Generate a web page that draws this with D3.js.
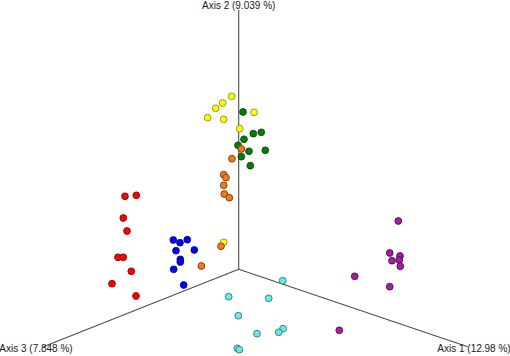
<!DOCTYPE html>
<html>
<head>
  <meta charset="UTF-8">
  <title>PCoA 3D</title>
  <script src="https://d3js.org/d3.v7.min.js"></script>
  <style>
    body { margin: 0; background: white; }
    text { font-family: "Liberation Sans", Arial, sans-serif; font-size: 10px; fill: #1a1a1a; }
  </style>
</head>
<body>
  <svg id="plot"></svg>
  <script>
    let width = 510;
    let height = 356;

    // axis labels
    let axisLabels = ["Axis 1 (12.98 %)", "Axis 2 (9.039 %)", "Axis 3 (7.848 %)"];

    // axis ends, projected (u right, v up) with origin at 0,0
    let axisEnds = [[2.29, -0.774], [0, 2.593], [-1.954, -0.774]];

    // projected sample coordinates, one array per group
    let groupNames = ["yellow", "green", "orange", "red", "blue", "cyan", "purple"];
    let groupColors = ["#ffff00", "#008000", "#f57a1c", "#ff0000", "#0000ff", "#6be8e8", "#a31fa3"];
    let groupStrokes = ["#8a8a2a", "#1f3a1f", "#7a3a10", "#7a1010", "#10107a", "#2a7a7a", "#4a104a"];

    let yellowU = [-0.07, -0.16, -0.23, -0.31, -0.15, 0.153, 0.01, -0.15];
    let yellowV = [1.73, 1.663, 1.61, 1.516, 1.50, 1.57, 1.406, 0.27];

    let greenU = [0.043, 0.146, 0.226, 0.053, -0.007, 0.103, 0.266, 0.026, 0.116];
    let greenV = [1.573, 1.356, 1.37, 1.30, 1.24, 1.18, 1.19, 1.126, 1.036];

    let orangeU = [0.026, -0.067, -0.15, -0.127, -0.15, -0.144, -0.094, -0.177, -0.374];
    let orangeV = [1.203, 1.106, 0.946, 0.916, 0.84, 0.753, 0.716, 0.23, 0.033];

    let redU = [-1.137, -1.024, -1.154, -1.117, -1.207, -1.154, -1.074, -1.267, -1.027];
    let redV = [0.73, 0.74, 0.513, 0.383, 0.12, 0.12, -0.02, -0.144, -0.267];

    let blueU = [-0.654, -0.587, -0.514, -0.627, -0.444, -0.584, -0.584, -0.65, -0.55];
    let blueV = [0.293, 0.266, 0.296, 0.186, 0.193, 0.10, 0.073, 0.0, -0.157];

    let cyanU = [0.44, -0.1, 0.3, -0.004, 0.183, 0.443, 0.4, -0.014, 0.006];
    let cyanV = [-0.114, -0.274, -0.29, -0.464, -0.644, -0.594, -0.63, -0.79, -0.804];

    let purpleU = [1.596, 1.51, 1.613, 1.533, 1.606, 1.616, 1.16, 1.51, 1.006];
    let purpleV = [0.483, 0.163, 0.133, 0.086, 0.093, 0.03, -0.07, -0.174, -0.61];

    let groupU = [yellowU, greenU, orangeU, redU, blueU, cyanU, purpleU];
    let groupV = [yellowV, greenV, orangeV, redV, blueV, cyanV, purpleV];

    let points = [];
    groupNames.forEach((g, i) => {
      groupU[i].forEach((u, j) => {
        points.push({ group: i, u: u, v: groupV[i][j] });
      });
    });

    let xScale = d3.scaleLinear().domain([0, 1]).range([238.7, 338.7]);
    let yScale = d3.scaleLinear().domain([0, 1]).range([269.3, 169.3]);

    let svg = d3.select("#plot")
                .attr("width", width)
                .attr("height", height);

    // axes from the origin
    svg.selectAll("line.axis").data(axisEnds)
       .join("line")
       .attr("class", "axis")
       .attr("x1", xScale(0))
       .attr("y1", yScale(0))
       .attr("x2", d => xScale(d[0]))
       .attr("y2", d => yScale(d[1]))
       .attr("stroke", "#4d4d4d")
       .attr("stroke-width", 1.1);

    // labels
    let labelPos = [
      { x: 474, y: 352, anchor: "middle" },
      { x: 238.7, y: 9, anchor: "middle" },
      { x: 36, y: 352, anchor: "middle" }
    ];
    svg.selectAll("text.lab").data(axisLabels)
       .join("text")
       .attr("class", "lab")
       .attr("x", (d, i) => labelPos[i].x)
       .attr("y", (d, i) => labelPos[i].y)
       .attr("text-anchor", (d, i) => labelPos[i].anchor)
       .text(d => d);

    svg.selectAll("circle").data(points)
       .join("circle")
       .attr("cx", d => xScale(d.u))
       .attr("cy", d => yScale(d.v))
       .attr("r", 3.4)
       .attr("fill", d => groupColors[d.group])
       .attr("stroke", d => groupStrokes[d.group])
       .attr("stroke-width", 0.9);
  </script>
</body>
</html>
